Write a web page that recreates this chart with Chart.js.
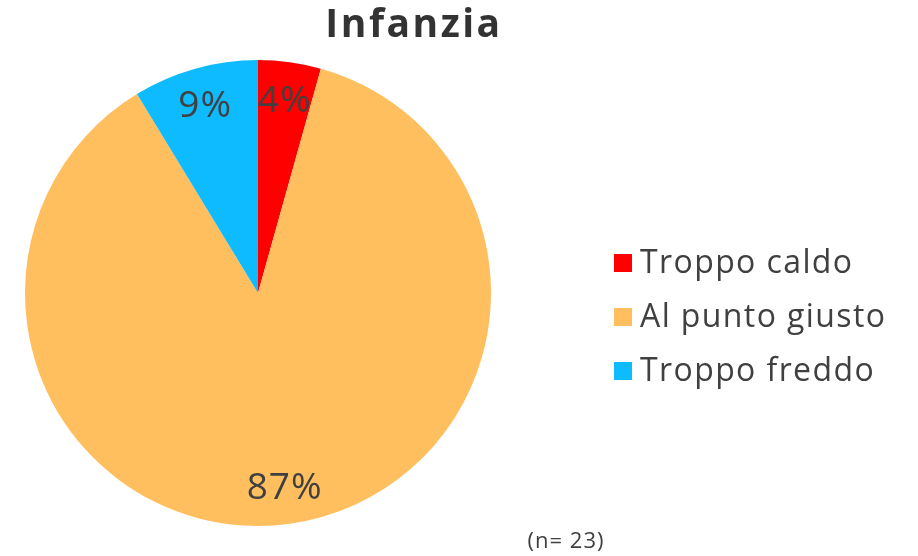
<!DOCTYPE html>
<html>
<head>
<meta charset="utf-8">
<script src="https://cdn.jsdelivr.net/npm/chart.js@4/dist/chart.umd.min.js"></script>
<style>
html,body{margin:0;padding:0;background:#fff;}
#wrap{position:relative;width:918px;height:556px;}
</style>
</head>
<body>
<div id="wrap"><canvas id="c" width="918" height="556"></canvas></div>
<script>
const title = "Infanzia";
const categories = ["Troppo caldo", "Al punto giusto", "Troppo freddo"];
const counts = [1, 20, 2];
const percentLabels = ["4%", "87%", "9%"];
const colors = ["#FF0000", "#FFBF5F", "#0FBBFF"];
const footnote = "(n= 23)";

const FONT = "'Open Sans', 'DejaVu Sans', sans-serif";
const TEXT = "#404040";

function spaced(ctx, px) { if ('letterSpacing' in ctx) ctx.letterSpacing = px + 'px'; }

const overlay = {
  id: 'overlay',
  afterDatasetsDraw(chart) {
    const ctx = chart.ctx;
    const meta = chart.getDatasetMeta(0);
    ctx.save();
    // slice labels
    ctx.fillStyle = TEXT;
    ctx.font = "37px " + FONT;
    spaced(ctx, 1);
    ctx.textAlign = 'center';
    ctx.textBaseline = 'middle';
    meta.data.forEach((arc, i) => {
      const p = arc.getProps(['x','y','startAngle','endAngle','outerRadius'], true);
      const a = (p.startAngle + p.endAngle) / 2;
      const r = p.outerRadius * 0.84;
      ctx.fillText(percentLabels[i], p.x + Math.cos(a) * r, p.y + Math.sin(a) * r + 2);
    });
    // title
    ctx.fillStyle = "#333333";
    ctx.font = "bold 39px " + FONT;
    spaced(ctx, 2.5);
    ctx.fillText(title, 414, 26);
    // legend
    ctx.textAlign = 'left';
    ctx.font = "32px " + FONT;
    spaced(ctx, 1.4);
    const ys = [263, 317, 371];
    categories.forEach((c, i) => {
      ctx.fillStyle = colors[i];
      ctx.fillRect(614, ys[i] - 9, 18, 18);
      ctx.fillStyle = TEXT;
      ctx.fillText(c, 640, ys[i] + 1);
    });
    // footnote
    ctx.font = "22px " + FONT;
    spaced(ctx, 1);
    ctx.textAlign = 'center';
    ctx.fillText(footnote, 566, 542);
    ctx.restore();
  }
};

new Chart(document.getElementById('c'), {
  type: 'pie',
  data: {
    labels: categories,
    datasets: [{
      data: counts,
      backgroundColor: colors,
      borderWidth: 0
    }]
  },
  options: {
    responsive: false,
    animation: false,
    layout: { padding: { left: 25, top: 60, right: 427, bottom: 30 } },
    plugins: {
      legend: { display: false },
      title: { display: false },
      tooltip: { enabled: false }
    }
  },
  plugins: [overlay]
});
</script>
</body>
</html>
